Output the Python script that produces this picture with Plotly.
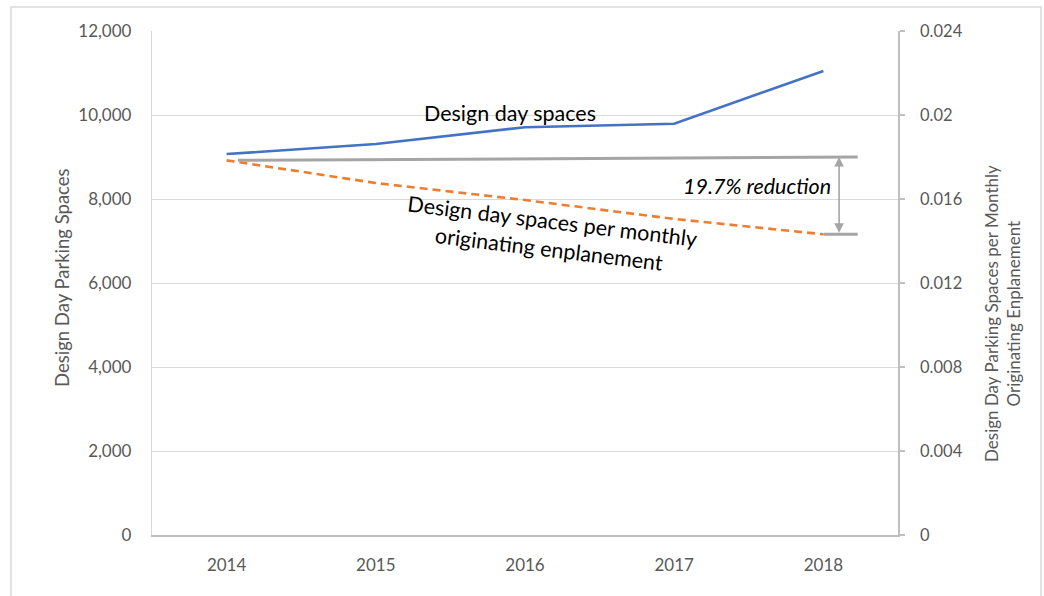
import plotly.graph_objects as go

# Parking demand data
years = ["2014", "2015", "2016", "2017", "2018"]
design_day_spaces = [9070, 9310, 9710, 9790, 11050]
spaces_per_enplanement = [0.01784, 0.01676, 0.01595, 0.01505, 0.01432]

left_ticks = [0, 2000, 4000, 6000, 8000, 10000, 12000]
right_tickvals = [0, 0.004, 0.008, 0.012, 0.016, 0.02, 0.024]
right_ticktext = ["0", "0.004", "0.008", "0.012", "0.016", "0.02", "0.024"]

W, H = 1044, 596
L, R, T, B = 152, 146, 31, 61
FONT = "Lato, 'Open Sans', sans-serif"
AXIS_GREY = "#595959"

reduction = (1 - spaces_per_enplanement[-1] / spaces_per_enplanement[0]) * 100

fig = go.Figure()
fig.add_trace(go.Scatter(
    x=years, y=design_day_spaces, mode="lines",
    line=dict(color="#4472C4", width=2.6), yaxis="y", showlegend=False,
))
fig.add_trace(go.Scatter(
    x=years, y=spaces_per_enplanement, mode="lines",
    line=dict(color="#ED7D31", width=2.6, dash="8px,5px"), yaxis="y2", showlegend=False,
))

# bracket marking the drop in spaces per enplanement
top_level = 0.018
fig.add_shape(type="line", xref="x", yref="y2", x0=0.076, x1=4.23,
              y0=spaces_per_enplanement[0], y1=top_level,
              line=dict(color="#A5A5A5", width=3))
fig.add_shape(type="line", xref="x", yref="y2", x0=4.0, x1=4.23,
              y0=spaces_per_enplanement[-1], y1=spaces_per_enplanement[-1],
              line=dict(color="#A5A5A5", width=3))
fig.add_annotation(x=4.105, y=top_level, ax=4.105, ay=spaces_per_enplanement[-1],
                   xref="x", yref="y2", axref="x", ayref="y2", text="",
                   showarrow=True, arrowhead=2, arrowside="end+start",
                   arrowsize=1.2, arrowwidth=1.6, arrowcolor="#A5A5A5")

# chart frame
fig.add_shape(type="rect", xref="paper", yref="paper",
              x0=(11 - L) / 746, x1=(1041 - L) / 746,
              y0=(535 - 620) / 504, y1=(535 - 7) / 504,
              line=dict(color="#D9D9D9", width=1.5), layer="below")

# series labels
fig.add_annotation(x=1.9, y=10048, xref="x", yref="y", text="Design day spaces",
                   showarrow=False, xanchor="center", yanchor="middle",
                   font=dict(family=FONT, size=21.5, color="#000000"))
fig.add_annotation(x=2.17, y=7143, xref="x", yref="y",
                   text="Design day spaces per monthly<br>originating enplanement",
                   showarrow=False, textangle=7, xanchor="center", yanchor="middle",
                   font=dict(family=FONT, size=21.5, color="#000000"))
fig.add_annotation(x=3.555, y=0.01662, xref="x", yref="y2",
                   text=f"<i>{reduction:.1f}% reduction</i>",
                   showarrow=False, xanchor="center", yanchor="middle",
                   font=dict(family=FONT, size=21.5, color="#000000"))

# axis titles
fig.add_annotation(x=(62 - L) / 746, y=(535 - 278) / 504, xref="paper", yref="paper",
                   text="Design Day Parking Spaces", textangle=-90, showarrow=False,
                   xanchor="center", yanchor="middle",
                   font=dict(family=FONT, size=18.5, color=AXIS_GREY))
fig.add_annotation(x=(1002 - L) / 746, y=(535 - 314) / 504, xref="paper", yref="paper",
                   text="Design Day Parking Spaces per Monthly<br>Originating Enplanement",
                   textangle=-90, showarrow=False, xanchor="center", yanchor="middle",
                   font=dict(family=FONT, size=17, color=AXIS_GREY))

fig.update_layout(
    width=W, height=H,
    margin=dict(l=L, r=R, t=T, b=B, pad=0),
    paper_bgcolor="white", plot_bgcolor="white",
    font=dict(family=FONT, color=AXIS_GREY),
    xaxis=dict(type="category", range=[-0.5, 4.5], showgrid=False,
               showline=True, linecolor="#BFBFBF", linewidth=2,
               ticks="", ticklabelstandoff=14,
               tickfont=dict(size=17, color=AXIS_GREY)),
    yaxis=dict(range=[0, 12000], tickvals=left_ticks, tickformat=",",
               showgrid=True, gridcolor="#D9D9D9", gridwidth=1.3,
               zeroline=False, showline=True, linecolor="#D9D9D9", linewidth=1.3,
               ticks="", ticklabelstandoff=16,
               tickfont=dict(size=17, color=AXIS_GREY)),
    yaxis2=dict(range=[0, 0.024], tickvals=right_tickvals, ticktext=right_ticktext,
                overlaying="y", side="right", showgrid=False, zeroline=False,
                showline=True, linecolor="#BFBFBF", linewidth=1.5,
                ticks="outside", ticklen=5, tickcolor="#BFBFBF", tickwidth=1.5,
                ticklabelstandoff=12,
                tickfont=dict(size=16.5, color=AXIS_GREY)),
)

fig.write_html("out.html")
